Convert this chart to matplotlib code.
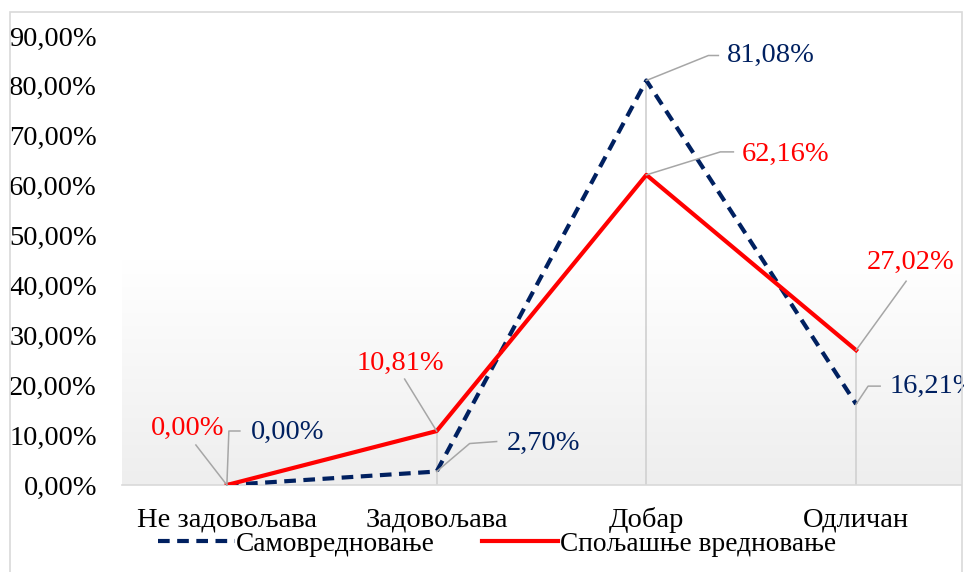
import numpy as np
import matplotlib
matplotlib.use("Agg")
import matplotlib.pyplot as plt
from matplotlib.lines import Line2D
from matplotlib.patches import Rectangle
from matplotlib.colors import LinearSegmentedColormap
from matplotlib.ticker import FuncFormatter

plt.rcParams['font.family'] = ['Liberation Serif', 'DejaVu Serif']

# data
categories = ['Не задовољава', 'Задовољава', 'Добар', 'Одличан']
self_eval = [0.00, 2.70, 81.08, 16.21]
external_eval = [0.00, 10.81, 62.16, 27.02]
series_names = ['Самовредновање', 'Спољашње вредновање']

blue = '#002060'
red = '#ff0000'
leader_col = '#a6a6a6'
fs = 20.5

fig = plt.figure(figsize=(9.64, 5.72), dpi=100)
ax = fig.add_axes([122 / 964, 87 / 572, 839 / 964, 449 / 572])

# outer chart border
fig.patches.append(Rectangle((10 / 964, -0.01), 952 / 964, 1 - 12 / 572 + 0.01,
                             transform=fig.transFigure, fill=False,
                             edgecolor='#d9d9d9', lw=1.2))

x = np.arange(len(categories))
ax.set_xlim(-0.5, len(categories) - 0.5)
ax.set_ylim(0, 90)

# gradient background of plot area (white on top, light grey at the bottom)
cmap = LinearSegmentedColormap.from_list('bg', ['#ffffff', '#ffffff', '#eeeeee'])
grad = np.linspace(0, 1, 256).reshape(-1, 1)
ax.imshow(grad, extent=[0, 1, 0, 1], transform=ax.transAxes, aspect='auto',
          cmap=cmap, origin='upper', zorder=0)

# drop lines
tops = np.maximum(self_eval, external_eval)
ax.vlines(x, 0, tops, color='#d0d0d0', lw=1.2, zorder=1)

ax.plot(x, self_eval, color=blue, lw=3.0, linestyle=(0, (2.8, 1.8)),
        label=series_names[0], zorder=3)
ax.plot(x, external_eval, color=red, lw=3.0, label=series_names[1], zorder=4)

for s in ['top', 'right', 'left']:
    ax.spines[s].set_visible(False)
ax.spines['bottom'].set_color('#d9d9d9')
ax.spines['bottom'].set_linewidth(1.2)

ax.set_xticks(x)
ax.set_xticklabels(categories, fontsize=fs)
ax.set_yticks(np.arange(0, 91, 10))
ax.yaxis.set_major_formatter(FuncFormatter(lambda v, p: f'{v:.2f}%'.replace('.', ',')))
ax.tick_params(axis='y', length=0, pad=18, labelsize=fs)
ax.tick_params(axis='x', length=0, pad=16)

# data labels with leader lines (offsets in pixels from the point)
labels = [
    # (series, index, color, leader path, text pos, ha)
    (self_eval, 0, blue, [(0, 0), (2, 54), (13, 54)], (24, 53), 'left'),
    (external_eval, 0, red, [(0, 0), (-31, 40)], (-2, 57), 'right'),
    (external_eval, 1, red, [(0, 0), (-32, 52)], (-36, 68), 'center'),
    (self_eval, 1, blue, [(0, 0), (33, 28), (60, 30)], (70, 28), 'left'),
    (self_eval, 2, blue, [(0, 0), (62, 25), (72, 25)], (81, 25), 'left'),
    (external_eval, 2, red, [(0, 0), (74, 23), (87, 23)], (95, 20), 'left'),
    (external_eval, 3, red, [(0, 0), (50, 69)], (54, 88), 'center'),
    (self_eval, 3, blue, [(0, 0), (12, 18), (24, 18)], (33, 18), 'left'),
]
for vals, i, col, path, tpos, ha in labels:
    px, py = ax.transData.transform((x[i], vals[i]))
    xs = [px + dx for dx, dy in path]
    ys = [py + dy for dx, dy in path]
    fig.add_artist(Line2D(xs, ys, transform=None, color=leader_col, lw=1.1, zorder=5))
    txt = f'{vals[i]:.2f}%'.replace('.', ',')
    ax.annotate(txt, (x[i], vals[i]), xytext=tpos, textcoords='offset pixels',
                ha=ha, va='center', color=col, fontsize=fs, zorder=6)

leg = fig.legend(loc='center', bbox_to_anchor=(497 / 964, 1 - 544 / 572), ncol=2,
                 frameon=False, fontsize=19.7, handlelength=2.8, handletextpad=0.05,
                 columnspacing=1.7, borderaxespad=0)

fig.savefig('out.png', dpi=100)
